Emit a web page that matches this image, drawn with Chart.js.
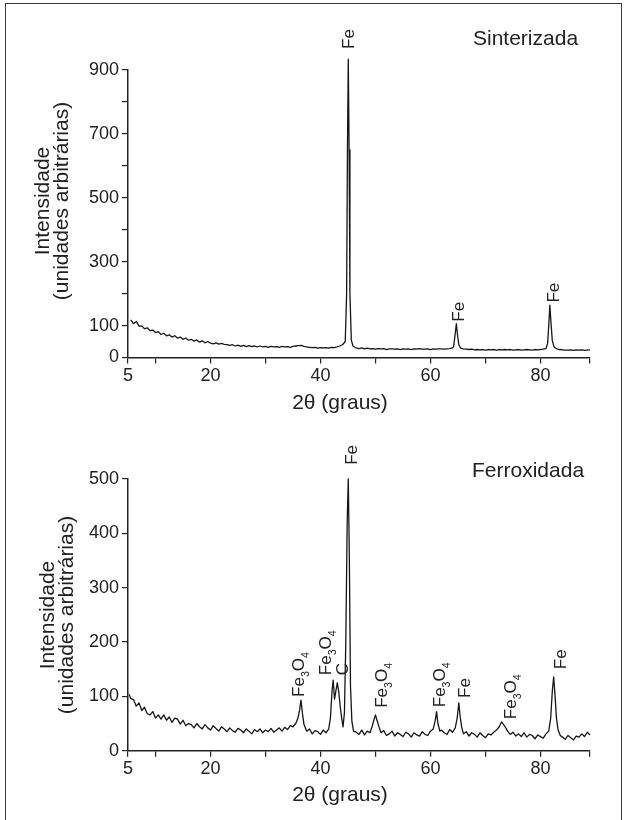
<!DOCTYPE html>
<html lang="pt">
<head>
<meta charset="utf-8">
<title>DRX - Sinterizada / Ferroxidada</title>
<script src="https://cdn.jsdelivr.net/npm/chart.js@4.4.1/dist/chart.umd.min.js"></script>
<style>
  html, body { margin: 0; padding: 0; background: #fff; }
  #page { position: relative; width: 627px; height: 820px; overflow: hidden; }
  #frame { position: absolute; left: 5px; top: 3px; width: 615px; height: 840px; border: 1.5px solid #3a3a3a; }
  canvas { position: absolute; left: 0; }
  #top-chart { top: 0; }
  #bottom-chart { top: 425px; }
</style>
</head>
<body>
<div id="page">
  <div id="frame"></div>
  <canvas id="top-chart" width="627" height="425"></canvas>
  <canvas id="bottom-chart" width="627" height="395"></canvas>
</div>
<script>
// ---- data ----
const xTickValues = [5, 10, 20, 30, 40, 50, 60, 70, 80, 89];
const xTickLabels = [5, 20, 40, 60, 80];
const topYLabels = [0, 100, 300, 500, 700, 900];
const bottomYLabels = [0, 100, 200, 300, 400, 500];

// Sinterizada
const sinterX = [
  5.5, 6, 6.5, 7, 7.5, 8, 8.5, 9, 9.5, 10, 10.5, 11, 11.5, 12, 12.5, 13, 13.5, 14, 14.5, 15,
  15.5, 16, 16.5, 17, 17.5, 18, 18.5, 19, 19.5, 20, 20.5, 21, 21.5, 22, 22.5, 23, 23.5, 24, 24.5, 25,
  25.5, 26, 26.5, 27, 27.5, 28, 28.5, 29, 29.5, 30, 30.5, 31, 31.5, 32, 32.5, 33, 33.5, 34, 34.5, 35,
  35.5, 36, 36.5, 37, 37.5, 38, 38.5, 39, 39.5, 40, 40.5, 41, 41.5, 42, 42.5, 43, 43.5, 44,
  44.5, 44.75, 44.9, 45.05, 45.2, 45.35, 45.6, 45.9, 46.3,
  46.5, 47, 47.5, 48, 48.5, 49, 49.5, 50, 50.5, 51, 51.5, 52, 52.5, 53, 53.5, 54, 54.5, 55,
  55.5, 56, 56.5, 57, 57.5, 58, 58.5, 59, 59.5, 60, 60.5, 61, 61.5, 62, 62.5, 63, 63.5, 64,
  64.2, 64.45, 64.7, 64.9, 65.15, 65.5,
  66, 66.5, 67, 67.5, 68, 68.5, 69, 69.5, 70, 70.5, 71, 71.5, 72, 72.5, 73, 73.5, 74, 74.5, 75,
  75.5, 76, 76.5, 77, 77.5, 78, 78.5, 79, 79.5, 80, 80.5, 81,
  81.3, 81.5, 81.7, 81.9, 82.15, 82.5,
  83, 83.5, 84, 84.5, 85, 85.5, 86, 86.5, 87, 87.5, 88, 88.5, 89
];
const sinterY = [
  118, 106, 113, 98, 99, 90, 93, 84, 86, 78, 81, 72, 76, 68, 71, 64, 68, 61, 64, 57,
  61, 54, 57, 51, 55, 48, 52, 46, 50, 45, 43, 46, 42, 44, 41, 40, 38, 40, 36, 39,
  35, 38, 34, 37, 34, 36, 33, 36, 33, 35, 32, 35, 33, 34, 32, 35, 33, 34, 32, 35,
  36, 37, 38, 35, 33, 32, 31, 32, 29, 31, 30, 31, 29, 32, 31, 33, 36, 40,
  50, 200, 650, 934, 650, 200, 55, 36, 31,
  30, 28, 30, 27, 29, 27, 28, 26, 28, 27, 28, 25, 27, 27, 26, 27, 25, 27,
  26, 27, 25, 27, 26, 28, 26, 26, 27, 25, 27, 26, 27, 27, 26, 27, 28, 30,
  34, 68, 106, 72, 40, 29,
  27, 26, 25, 26, 24, 25, 24, 25, 23, 25, 24, 25, 23, 25, 24, 25, 24, 25, 23,
  24, 25, 23, 24, 25, 24, 23, 25, 24, 25, 26, 28,
  45, 100, 164, 110, 52, 32,
  27, 25, 24, 23, 23, 24, 22, 24, 23, 24, 22, 23, 24
];

// Ferroxidada
const ferroX = [
  5.2, 5.5, 6, 6.5, 7, 7.5, 8, 8.5, 9, 9.5, 10, 10.5, 11, 11.5, 12, 12.5, 13, 13.5, 14, 14.5, 15,
  15.5, 16, 16.5, 17, 17.5, 18, 18.5, 19, 19.5, 20, 20.5, 21, 21.5, 22, 22.5, 23, 23.5, 24, 24.5, 25,
  25.5, 26, 26.5, 27, 27.5, 28, 28.5, 29, 29.5, 30, 30.5, 31, 31.5, 32, 32.5, 33, 33.5, 34, 34.5, 35,
  35.5, 35.9, 36.2, 36.45, 36.7, 37, 37.5, 38, 38.5, 39, 39.5, 40, 40.5, 41, 41.5,
  41.8, 42.1, 42.3, 42.55, 42.8, 43.05, 43.3, 43.6, 43.85, 44.1,
  44.35, 44.6, 44.85, 45.05, 45.25, 45.45, 45.7, 46,
  46.5, 47, 47.5, 48, 48.5, 49, 49.4, 49.75, 50, 50.3, 50.7, 51, 51.5, 52, 52.5, 53, 53.5, 54,
  54.5, 55, 55.5, 56, 56.5, 57, 57.5, 58, 58.5, 59, 59.5, 60, 60.5, 60.85, 61.1, 61.35, 61.7,
  62, 62.5, 63, 63.5, 64, 64.5, 64.85, 65.15, 65.4, 65.7, 66, 66.5, 67, 67.5, 68, 68.5, 69,
  69.5, 70, 70.5, 71, 71.5, 72, 72.5, 72.9, 73.3, 73.7, 74, 74.5, 75, 75.5, 76, 76.5, 77,
  77.5, 78, 78.5, 79, 79.5, 80, 80.5, 81, 81.5, 81.85, 82.15, 82.4, 82.65, 82.9, 83.2, 83.6,
  84, 84.5, 85, 85.5, 86, 86.5, 87, 87.5, 88, 88.5, 89
];
const ferroY = [
  104, 96, 94, 82, 88, 74, 80, 68, 66, 72, 60, 66, 58, 66, 56, 62, 52, 60, 58, 49, 56,
  46, 50, 48, 42, 50, 44, 40, 48, 42, 38, 46, 41, 36, 44, 40, 35, 42, 37, 34, 41,
  38, 33, 40, 36, 31, 39, 35, 40, 33, 38, 35, 41, 34, 38, 42, 36, 43, 39, 46, 44,
  50, 60, 75, 93, 70, 48, 36, 40, 31, 37, 35, 30, 38, 33, 40,
  60, 110, 130, 95, 110, 125, 110, 80, 60, 44,
  70, 200, 420, 500, 350, 120, 55, 36,
  34, 30, 38, 29, 36, 33, 45, 58, 66, 55, 42, 33, 37, 28, 31, 36, 27, 33,
  30, 26, 34, 31, 25, 33, 29, 27, 35, 30, 28, 36, 40, 55, 72, 50, 36,
  38, 33, 30, 39, 34, 42, 60, 88, 62, 42, 31, 35, 27, 33, 30, 25, 33,
  28, 24, 31, 29, 34, 38, 44, 53, 48, 42, 36, 30, 34, 27, 31, 26, 33,
  25, 30, 28, 22, 29, 26, 23, 31, 36, 60, 110, 136, 100, 60, 38, 28,
  25, 21, 28, 24, 20, 27, 25, 31, 26, 34, 29
];

// peak annotations: text, 2θ, intensity where the (rotated) text starts
const sinterLabels = ["Fe", "Fe", "Fe"];
const sinterLabelX = [44.9, 64.95, 82.3];
const sinterLabelY = [966, 112, 172];

const ferroLabels = ["Fe_3O_4", "Fe_3O_4", "C", "Fe", "Fe_3O_4", "Fe_3O_4", "Fe", "Fe_3O_4", "Fe"];
const ferroLabelX = [35.9, 40.8, 43.9, 45.6, 50.9, 61.5, 66.0, 74.4, 83.5];
const ferroLabelY = [99, 139, 139, 526, 79, 80, 97, 58, 150];

// ---- drawing ----
const FONT = "'Liberation Sans', Arial, Helvetica, sans-serif";
const INK = "#222";

function toPoints(xs, ys) {
  return xs.map((x, i) => ({ x: x, y: ys[i] }));
}

// draw text turned 90° (reads bottom to top); "_d" marks a subscript digit
function drawRotated(ctx, text, px, py, size) {
  const parts = [];
  for (let i = 0; i < text.length; i++) {
    if (text[i] === "_") { parts.push([text[i + 1], true]); i++; }
    else parts.push([text[i], false]);
  }
  ctx.save();
  ctx.translate(px, py);
  ctx.rotate(-Math.PI / 2);
  ctx.textBaseline = "alphabetic";
  ctx.textAlign = "left";
  let cx = 0;
  const base = size * 0.358;
  for (const [ch, sub] of parts) {
    const fs = sub ? size * 0.62 : size;
    ctx.font = fs + "px " + FONT;
    ctx.fillText(ch, cx, base + (sub ? size * 0.3 : 0));
    cx += ctx.measureText(ch).width;
  }
  ctx.restore();
}

const textPlugin = {
  id: "panelText",
  afterDraw(chart, args, opts) {
    const ctx = chart.ctx;
    const xs = chart.scales.x;
    const ys = chart.scales.y;
    ctx.save();
    ctx.fillStyle = INK;

    // panel name
    ctx.font = "21px " + FONT;
    ctx.textAlign = "left";
    ctx.textBaseline = "middle";
    ctx.fillText(opts.name, opts.nameX, opts.nameY);

    // x axis title
    ctx.textAlign = "center";
    ctx.fillText("2θ (graus)", 340, opts.xTitleY);

    // y axis title, two lines
    ctx.save();
    ctx.translate(opts.yTitleX, opts.yTitleY);
    ctx.rotate(-Math.PI / 2);
    ctx.textAlign = "center";
    ctx.textBaseline = "alphabetic";
    ctx.fillText("Intensidade", 0, 0);
    ctx.fillText("(unidades arbitrárias)", 0, 19);
    ctx.restore();

    // peak labels
    for (let i = 0; i < opts.labels.length; i++) {
      drawRotated(ctx, opts.labels[i], xs.getPixelForValue(opts.labelX[i]),
        ys.getPixelForValue(opts.labelY[i]), 17);
    }
    ctx.restore();
  },
};

function makePanel(canvasId, points, yMax, yLabels, pad, text) {
  return new Chart(document.getElementById(canvasId), {
    type: "line",
    data: {
      datasets: [{
        data: points,
        borderColor: "#161616",
        borderWidth: 1.3,
        borderJoinStyle: "round",
        pointRadius: 0,
        tension: 0,
        fill: false,
        clip: false,
      }],
    },
    options: {
      responsive: false,
      animation: false,
      events: [],
      layout: { padding: pad },
      plugins: {
        legend: { display: false },
        tooltip: { enabled: false },
        panelText: text,
      },
      scales: {
        x: {
          type: "linear",
          min: 5,
          max: 89,
          afterBuildTicks: (s) => { s.ticks = xTickValues.map((v) => ({ value: v })); },
          afterFit: (s) => { s.height = 30; },
          ticks: {
            autoSkip: false,
            maxRotation: 0,
            padding: 2,
            color: INK,
            font: { family: FONT, size: 18 },
            callback: (v) => (xTickLabels.includes(v) ? String(v) : ""),
          },
          grid: { display: true, drawOnChartArea: false, drawTicks: true, tickLength: 6, color: INK, lineWidth: 1.2 },
          border: { display: true, color: INK, width: 1.5 },
        },
        y: {
          type: "linear",
          min: 0,
          max: yMax,
          afterFit: (s) => { s.width = 128; },
          ticks: {
            stepSize: 100,
            padding: 3,
            color: INK,
            font: { family: FONT, size: 18 },
            callback: (v) => (yLabels.includes(v) ? String(v) : ""),
          },
          grid: { display: true, drawOnChartArea: false, drawTicks: true, tickLength: 6, color: INK, lineWidth: 1.2 },
          border: { display: true, color: INK, width: 1.5 },
        },
      },
    },
    plugins: [textPlugin],
  });
}

makePanel("top-chart", toPoints(sinterX, sinterY), 900, topYLabels,
  { left: 0, right: 37, top: 70, bottom: 37.5 },
  {
    name: "Sinterizada", nameX: 473, nameY: 39, xTitleY: 403,
    yTitleX: 49, yTitleY: 201,
    labels: sinterLabels, labelX: sinterLabelX, labelY: sinterLabelY,
  });

makePanel("bottom-chart", toPoints(ferroX, ferroY), 500, bottomYLabels,
  { left: 0, right: 37, top: 54, bottom: 39.3 },
  {
    name: "Ferroxidada", nameX: 472, nameY: 46, xTitleY: 370,
    yTitleX: 54, yTitleY: 190,
    labels: ferroLabels, labelX: ferroLabelX, labelY: ferroLabelY,
  });
</script>
</body>
</html>
